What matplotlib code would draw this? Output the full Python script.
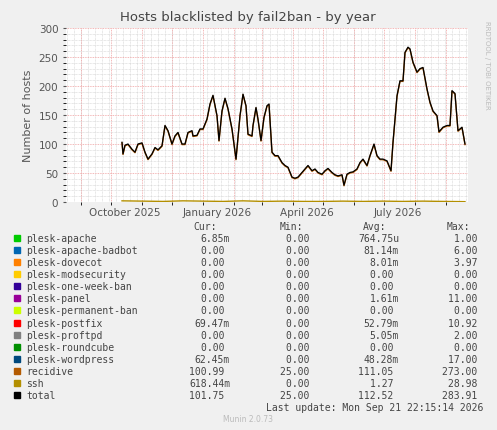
import matplotlib
matplotlib.use("Agg")
import matplotlib.pyplot as plt
import matplotlib.dates as mdates
import numpy as np
import pandas as pd

# days relative to 2026-01-01 and total values
days = [-81,-80,-78,-75,-71,-68,-65,-61,-58,-55,-51,-48,-45,-41,-38,-35,-31,-28,-25,-21,-18,-15,-11,-10,-6,-3,0,4,7,10,14,16,19,22,25,29,33,37,40,43,45,49,50,53,55,58,61,64,66,69,72,75,79,82,85,89,92,95,99,102,105,109,112,115,119,122,125,129,132,135,139,141,144,147,150,154,157,160,164,167,171,174,177,180,184,188,190,194,197,200,202,205,207,210,214,217,220,224,227,230,234,236,240,244,247,249,252,255,259,262]
total = [103,83,98,100,91,86,100,102,86,74,83,94,90,97,132,123,100,114,120,100,100,120,123,114,115,126,126,143,169,184,149,106,157,179,161,126,74,149,186,166,117,114,132,163,143,106,146,166,169,86,80,80,68,63,60,43,41,43,51,57,63,54,57,51,48,54,58,51,47,45,47,29,48,51,52,57,68,74,63,80,100,80,74,74,71,54,103,183,209,209,258,267,264,241,224,230,232,195,172,157,149,121,129,132,132,192,187,123,129,100]
ssh_days = [-81,-60,-40,-20,0,20,40,60,80,100,120,140,160,180,200,220,240,262]
ssh = [2,1.5,1,2,1.5,1,2,1,1.5,1,1,1.5,1,1.5,1,1.5,1,0.6]

names = ["plesk-apache","plesk-apache-badbot","plesk-dovecot","plesk-modsecurity","plesk-one-week-ban",
         "plesk-panel","plesk-permanent-ban","plesk-postfix","plesk-proftpd","plesk-roundcube",
         "plesk-wordpress","recidive","ssh","total"]
colors = ["#00CC00","#0066B3","#FF8000","#FFCC00","#330099","#990099","#CCFF00","#FF0000",
          "#808080","#008F00","#00487D","#B35A00","#B38F00","#000000"]
cur = ["6.85m","0.00","0.00","0.00","0.00","0.00","0.00","69.47m","0.00","0.00","62.45m","100.99","618.44m","101.75"]
mins = ["0.00"]*11 + ["25.00","0.00","25.00"]
avg = ["764.75u","81.14m","8.01m","0.00","0.00","1.61m","0.00","52.79m","5.05m","0.00","48.28m","111.05","1.27","112.52"]
mx = ["1.00","6.00","3.97","0.00","0.00","11.00","0.00","10.92","2.00","0.00","17.00","273.00","28.98","283.91"]

base = pd.Timestamp("2026-01-01")
dt = [base + pd.Timedelta(days=d) for d in days]
sdt = [base + pd.Timedelta(days=d) for d in ssh_days]
recidive = [t - 1 for t in total]

W, H = 497, 431
fig = plt.figure(figsize=(W/100, H/100), dpi=100, facecolor="#F0F0F0")
ax = fig.add_axes([66/W, 1-203/H, (468-66)/W, (203-29)/H])
ax.set_facecolor("white")

ax.plot(sdt, ssh, color=colors[12], lw=1)
ax.plot(dt, recidive, color=colors[11], lw=1)
ax.plot(dt, total, color=colors[13], lw=0.9)

ax.set_xlim(base - pd.Timedelta(days=137), base + pd.Timedelta(days=265))
ax.set_ylim(0, 300)
ax.set_yticks(range(0, 301, 50))
ax.set_yticks(range(0, 301, 10), minor=True)
ax.xaxis.set_major_locator(mdates.MonthLocator(bymonth=[10, 1, 4, 7], bymonthday=15))
ax.xaxis.set_major_formatter(mdates.DateFormatter("%B %Y"))
ax.xaxis.set_minor_locator(mdates.MonthLocator())
ax.grid(which="minor", axis="y", color="#D0D0D0", ls=(0, (1, 1)), lw=0.5)
ax.grid(which="major", axis="y", color="#F0A0A0", ls=(0, (1, 1)), lw=0.6)
ax.grid(which="minor", axis="x", color="#F0A0A0", ls=(0, (1, 1)), lw=0.6)
for t in pd.date_range("2025-08-18", "2026-09-23", freq="7D"):
    ax.axvline(t, color="#D0D0D0", ls=(0, (1, 1)), lw=0.5, zorder=0)
ax.tick_params(labelsize=7.5, colors="#555555", length=2)
ax.tick_params(which="minor", length=2)
ax.tick_params(axis="x", which="major", length=0)
for s in ax.spines.values():
    s.set_visible(False)
ax.set_ylabel("Number of hosts", fontsize=8, color="#555555")

fig.text(248/W, 1-18/H, "Hosts blacklisted by fail2ban - by year", ha="center", va="center", fontsize=9.5, color="#444444")
fig.text(487/W, 1-65/H, "RRDTOOL / TOBI OETIKER", rotation=270, ha="center", va="center", fontsize=5, color="#BBBBBB")

mono = "DejaVu Sans Mono"
fs = 7
def y(px): return 1 - px/H
fig.text(217/W, y(227), "Cur:", ha="right", va="center", family=mono, fontsize=fs, color="#444444")
fig.text(303/W, y(227), "Min:", ha="right", va="center", family=mono, fontsize=fs, color="#444444")
fig.text(386/W, y(227), "Avg:", ha="right", va="center", family=mono, fontsize=fs, color="#444444")
fig.text(470/W, y(227), "Max:", ha="right", va="center", family=mono, fontsize=fs, color="#444444")

def fmt(v):
    return v if v[-1].isalpha() else v + " "
for i, n in enumerate(names):
    yy = y(239.3 + i*12.03)
    fig.patches.append(plt.Rectangle((14/W, yy - 3/H), 6/W, 6/H, transform=fig.transFigure, color=colors[i]))
    fig.text(26.5/W, yy, n, ha="left", va="center", family=mono, fontsize=fs, color="#444444")
    fig.text(230/W, yy, fmt(cur[i]), ha="right", va="center", family=mono, fontsize=fs, color="#444444")
    fig.text(315/W, yy, fmt(mins[i]), ha="right", va="center", family=mono, fontsize=fs, color="#444444")
    fig.text(399/W, yy, fmt(avg[i]), ha="right", va="center", family=mono, fontsize=fs, color="#444444")
    fig.text(483/W, yy, fmt(mx[i]), ha="right", va="center", family=mono, fontsize=fs, color="#444444")
fig.text(483/W, y(408), "Last update: Mon Sep 21 22:15:14 2026", ha="right", va="center", family=mono, fontsize=fs, color="#444444")
fig.text(248/W, y(420), "Munin 2.0.73", ha="center", va="center", fontsize=5.5, color="#BBBBBB")

fig.savefig("out.png", dpi=100, facecolor=fig.get_facecolor())
